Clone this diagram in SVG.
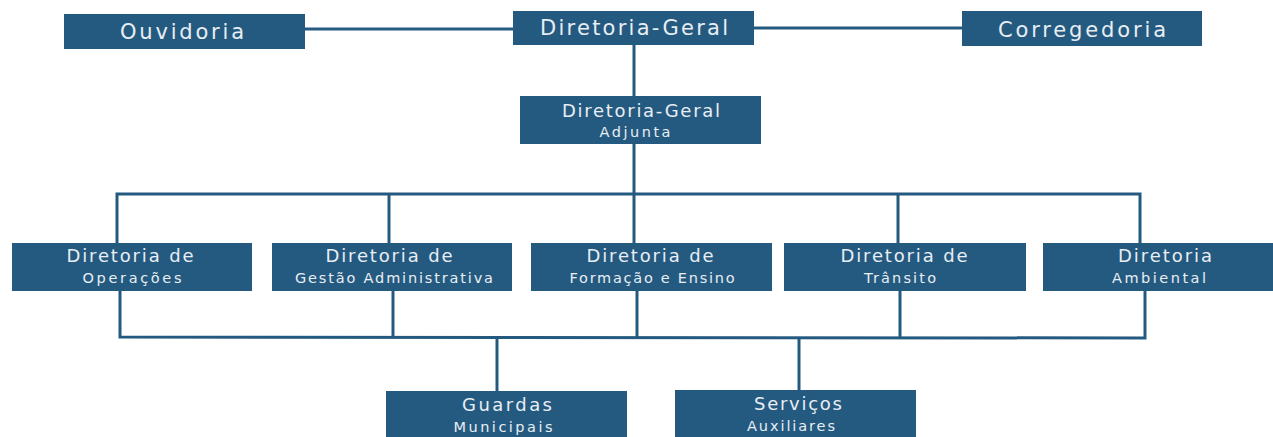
<svg xmlns="http://www.w3.org/2000/svg" width="1273" height="437" viewBox="0 0 1273 437">
<style>
.box{fill:#255a80;}
.t{font-family:"DejaVu Sans","Open Sans",sans-serif;fill:#e8eef4;text-anchor:middle;}
.big{font-size:21px;}
.mid{font-size:18px;}
.sm{font-size:14.5px;}
.ln{stroke:#255a80;stroke-width:3;fill:none;}
</style>
<rect width="1273" height="437" fill="#ffffff"/>
<g id="connectors">
<line class="ln" x1="305" y1="29" x2="513" y2="29"/>
<line class="ln" x1="754" y1="28" x2="962" y2="28"/>
<line class="ln" x1="634" y1="45" x2="634" y2="96"/>
<line class="ln" x1="634" y1="144" x2="634" y2="194"/>
<polyline class="ln" points="117,243 117,194 1140,194 1140,243"/>
<line class="ln" x1="389" y1="194" x2="389" y2="243"/>
<line class="ln" x1="634" y1="194" x2="634" y2="243"/>
<line class="ln" x1="898" y1="194" x2="898" y2="243"/>
<polyline class="ln" points="120,291 120,337 1145,338 1145,291"/>
<line class="ln" x1="393" y1="291" x2="393" y2="337"/>
<line class="ln" x1="637" y1="291" x2="637" y2="337"/>
<line class="ln" x1="900" y1="291" x2="900" y2="338"/>
<line class="ln" x1="497" y1="337" x2="497" y2="391"/>
<line class="ln" x1="799" y1="338" x2="799" y2="390"/>
</g>
<g id="ouvidoria">
<rect class="box" x="64" y="14" width="241" height="35"/>
<text class="t big" x="182" y="39" textLength="124">Ouvidoria</text>
</g>
<g id="diretoria-geral">
<rect class="box" x="513" y="11" width="241" height="34"/>
<text class="t big" x="634" y="35" textLength="188">Diretoria-Geral</text>
</g>
<g id="corregedoria">
<rect class="box" x="962" y="11" width="240" height="35"/>
<text class="t big" x="1082" y="37" textLength="168">Corregedoria</text>
</g>
<g id="diretoria-geral-adjunta">
<rect class="box" x="520" y="96" width="241" height="48"/>
<text class="t mid" x="641" y="117" textLength="158">Diretoria-Geral</text>
<text class="t sm" x="635" y="137" textLength="71">Adjunta</text>
</g>
<g id="dir-operacoes">
<rect class="box" x="12" y="243" width="240" height="48"/>
<text class="t mid" x="130" y="262" textLength="127">Diretoria de</text>
<text class="t sm" x="132" y="283" textLength="99">Operações</text>
</g>
<g id="dir-gestao">
<rect class="box" x="272" y="243" width="240" height="48"/>
<text class="t mid" x="389" y="262" textLength="127">Diretoria de</text>
<text class="t sm" x="394" y="283" textLength="198">Gestão Administrativa</text>
</g>
<g id="dir-formacao">
<rect class="box" x="531" y="243" width="241" height="48"/>
<text class="t mid" x="650" y="262" textLength="127">Diretoria de</text>
<text class="t sm" x="652" y="283" textLength="165">Formação e Ensino</text>
</g>
<g id="dir-transito">
<rect class="box" x="784" y="243" width="242" height="48"/>
<text class="t mid" x="904" y="262" textLength="127">Diretoria de</text>
<text class="t sm" x="900" y="283" textLength="72">Trânsito</text>
</g>
<g id="dir-ambiental">
<rect class="box" x="1043" y="243" width="240" height="48"/>
<text class="t mid" x="1165" y="262" textLength="94">Diretoria</text>
<text class="t sm" x="1159" y="283" textLength="94">Ambiental</text>
</g>
<g id="guardas">
<rect class="box" x="386" y="391" width="241" height="50"/>
<text class="t mid" x="507" y="411" textLength="90">Guardas</text>
<text class="t sm" x="503" y="432" textLength="99">Municipais</text>
</g>
<g id="servicos">
<rect class="box" x="675" y="390" width="241" height="51"/>
<text class="t mid" x="798" y="410" textLength="88">Serviços</text>
<text class="t sm" x="791" y="431" textLength="88">Auxiliares</text>
</g>
</svg>
